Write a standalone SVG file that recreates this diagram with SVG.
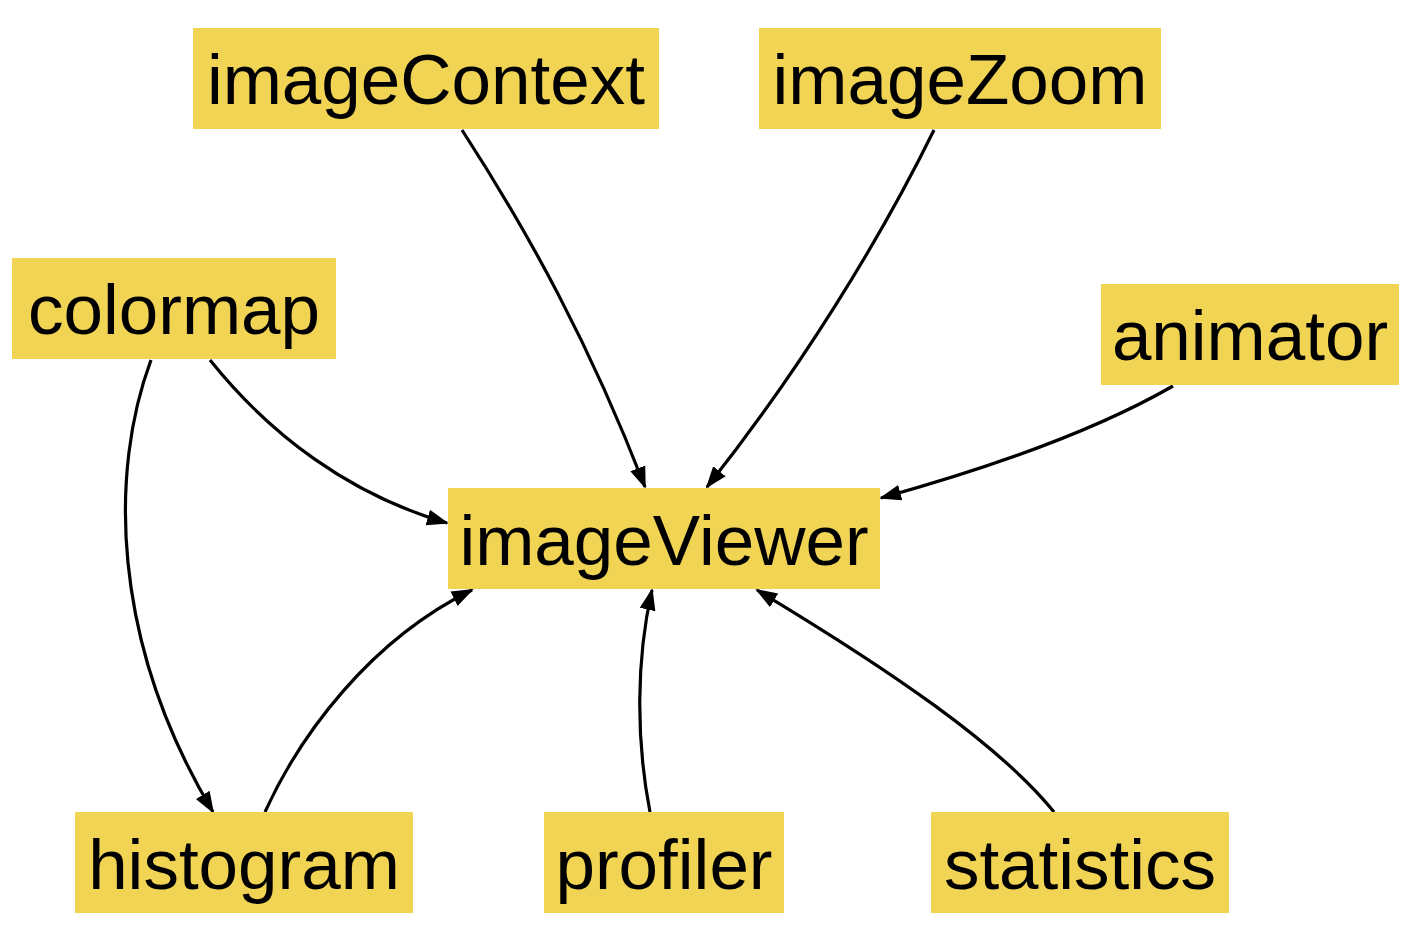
<svg xmlns="http://www.w3.org/2000/svg" width="1422" height="938" viewBox="0 0 1422 938">
<style>
.box{fill:#F1D453;}
.lbl{font-family:"Liberation Sans",Arial,Helvetica,sans-serif;font-size:71px;fill:#000;text-anchor:middle;}
.edge{fill:none;stroke:#000;stroke-width:3.2;marker-end:url(#arr);}
</style>
<defs>
<marker id="arr" markerUnits="userSpaceOnUse" markerWidth="22" markerHeight="18" viewBox="0 0 22 18" refX="20" refY="9" orient="auto">
<path d="M0,1 L22,9 L0,17 z" fill="#000"/>
</marker>
</defs>
<rect width="1422" height="938" fill="#fff"/>
<g id="connectors">
<path class="edge" d="M462,130 C530,235 590,345 645,487"/>
<path class="edge" d="M934,130 C880,240 800,370 707,487"/>
<path class="edge" d="M1173,386 C1100,428 1000,465 881,498"/>
<path class="edge" d="M210,360 C270,435 350,495 447,523"/>
<path class="edge" d="M151,360 C110,470 110,640 213,812"/>
<path class="edge" d="M265,812 C300,735 370,640 472,590"/>
<path class="edge" d="M650,812 C636,740 636,660 652,590"/>
<path class="edge" d="M1054,812 C1000,745 890,670 757,590"/>
</g>
<g id="imageContext"><rect class="box" x="193" y="28" width="466" height="101"/><text class="lbl" x="426" y="104">imageContext</text></g>
<g id="imageZoom"><rect class="box" x="759" y="28" width="402" height="101"/><text class="lbl" x="960" y="104">imageZoom</text></g>
<g id="colormap"><rect class="box" x="12" y="258" width="324" height="101"/><text class="lbl" x="174" y="334">colormap</text></g>
<g id="animator"><rect class="box" x="1101" y="284" width="298" height="101"/><text class="lbl" x="1250" y="360">animator</text></g>
<g id="imageViewer"><rect class="box" x="448" y="488" width="432" height="101"/><text class="lbl" x="664" y="565">imageViewer</text></g>
<g id="histogram"><rect class="box" x="75" y="812" width="338" height="101"/><text class="lbl" x="244" y="889">histogram</text></g>
<g id="profiler"><rect class="box" x="544" y="812" width="240" height="101"/><text class="lbl" x="664" y="889">profiler</text></g>
<g id="statistics"><rect class="box" x="931" y="812" width="298" height="101"/><text class="lbl" x="1080" y="889">statistics</text></g>
</svg>
